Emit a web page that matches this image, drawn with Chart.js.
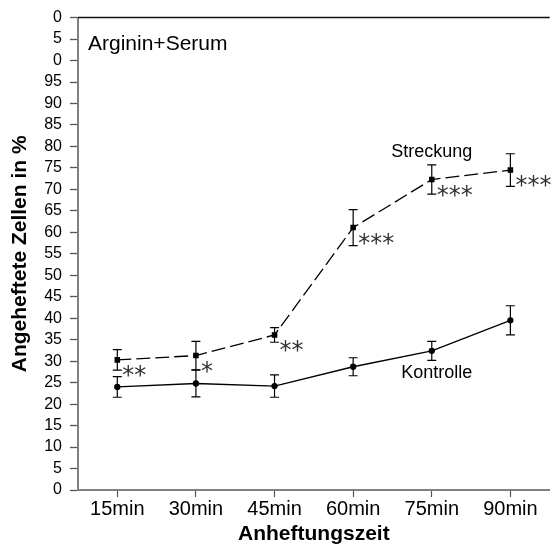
<!DOCTYPE html>
<html>
<head>
<meta charset="utf-8">
<script src="https://cdn.jsdelivr.net/npm/chart.js@4"></script>
<style>
  html, body { margin: 0; padding: 0; background: #fff; }
  canvas { display: block; }
</style>
</head>
<body>
<canvas id="attachChart" width="555" height="547"></canvas>
<script>
// values
const categories = ["15min", "30min", "45min", "60min", "75min", "90min"];
const streckung = [30.3, 31.3, 36.1, 61.1, 72.3, 74.5];
const streckungErr = [2.4, 3.3, 1.7, 4.2, 3.4, 3.8];
const kontrolle = [24.0, 24.8, 24.2, 28.7, 32.4, 39.5];
const kontrolleErr = [2.4, 3.1, 2.6, 2.1, 2.2, 3.4];
const stars = ["**", "*", "**", "***", "***", "***"];
// y tick labels bottom to top (top ones are cut off in the original)
const yTickLabels = ["0", "5", "10", "15", "20", "25", "30", "35", "40", "45", "50",
  "55", "60", "65", "70", "75", "80", "85", "90", "95", "0", "5", "0"];

const FONT = "'Liberation Sans', Arial, sans-serif";

// error bars, significance stars, text labels and the top frame line
const extras = {
  id: "extras",
  afterDatasetsDraw(chart) {
    const ctx = chart.ctx;
    const x = chart.scales.x, y = chart.scales.y;
    const area = chart.chartArea;
    ctx.save();

    // top frame
    ctx.strokeStyle = "#111";
    ctx.lineWidth = 1.5;
    ctx.beginPath();
    ctx.moveTo(area.left, area.top);
    ctx.lineTo(area.right, area.top);
    ctx.stroke();

    // error bars
    ctx.strokeStyle = "#000";
    ctx.lineWidth = 1.2;
    const bars = [[streckung, streckungErr], [kontrolle, kontrolleErr]];
    bars.forEach(([vals, errs]) => {
      vals.forEach((v, i) => {
        const px = x.getPixelForValue(i);
        const top = y.getPixelForValue(v + errs[i]);
        const bot = y.getPixelForValue(v - errs[i]);
        ctx.beginPath();
        ctx.moveTo(px, top); ctx.lineTo(px, bot);
        ctx.moveTo(px - 4.5, top); ctx.lineTo(px + 4.5, top);
        ctx.moveTo(px - 4.5, bot); ctx.lineTo(px + 4.5, bot);
        ctx.stroke();
      });
    });

    // stars
    ctx.fillStyle = "#333";
    ctx.font = "24px 'DejaVu Sans', sans-serif";
    ctx.textAlign = "left";
    ctx.textBaseline = "alphabetic";
    stars.forEach((s, i) => {
      const px = x.getPixelForValue(i) + 5;
      const py = y.getPixelForValue(streckung[i]) + 9;
      ctx.fillText(s, px, py + 14);
    });

    // labels
    ctx.fillStyle = "#000";
    ctx.textBaseline = "middle";
    ctx.textAlign = "center";
    ctx.font = "18px " + FONT;
    ctx.fillText("Streckung", x.getPixelForValue(4), y.getPixelForValue(78.8));
    ctx.fillText("Kontrolle", x.getPixelForValue(4) + 5, y.getPixelForValue(27.2));
    ctx.textAlign = "left";
    ctx.textBaseline = "alphabetic";
    ctx.font = "21px " + FONT;
    ctx.fillText("Arginin+Serum", area.left + 10, y.getPixelForValue(102.4));
    ctx.restore();
  }
};

new Chart(document.getElementById("attachChart"), {
  type: "line",
  data: {
    labels: categories,
    datasets: [
      {
        label: "Streckung",
        data: streckung,
        borderColor: "#000",
        backgroundColor: "#000",
        borderWidth: 1.3,
        borderDash: [14, 5],
        pointStyle: "rect",
        pointRadius: 3,
        fill: false,
        tension: 0
      },
      {
        label: "Kontrolle",
        data: kontrolle,
        borderColor: "#000",
        backgroundColor: "#000",
        borderWidth: 1.3,
        pointStyle: "circle",
        pointRadius: 2.5,
        fill: false,
        tension: 0
      }
    ]
  },
  options: {
    responsive: false,
    animation: false,
    layout: { padding: { top: 13, left: 0, right: 0, bottom: 0 } },
    plugins: {
      legend: { display: false },
      tooltip: { enabled: false }
    },
    scales: {
      x: {
        type: "category",
        offset: true,
        afterFit: (s) => { s.height = 57; },
        grid: {
          offset: false,
          drawOnChartArea: false,
          drawTicks: true,
          tickLength: 7,
          tickColor: "#555",
          tickWidth: 1.2
        },
        border: { color: "#808080", width: 2 },
        ticks: {
          color: "#000",
          padding: 2,
          maxRotation: 0,
          autoSkip: false,
          font: { family: FONT, size: 20, lineHeight: 1 }
        },
        title: {
          display: true,
          text: "Anheftungszeit",
          color: "#000",
          padding: { top: 1, bottom: 0 },
          font: { family: FONT, size: 21, weight: "bold" }
        }
      },
      y: {
        min: 0,
        max: 110,
        afterFit: (s) => { s.width = 78; },
        grid: {
          drawOnChartArea: false,
          drawTicks: true,
          tickLength: 8,
          tickColor: "#555",
          tickWidth: 1.3
        },
        border: { color: "#808080", width: 2 },
        ticks: {
          stepSize: 5,
          autoSkip: false,
          color: "#000",
          padding: 8,
          font: { family: FONT, size: 16 },
          callback: (v, i) => yTickLabels[i]
        },
        title: {
          display: true,
          text: "Angeheftete Zellen in %",
          color: "#000",
          padding: { top: 8, bottom: 0 },
          font: { family: FONT, size: 21, weight: "bold" }
        }
      }
    }
  },
  plugins: [extras]
});
</script>
</body>
</html>
